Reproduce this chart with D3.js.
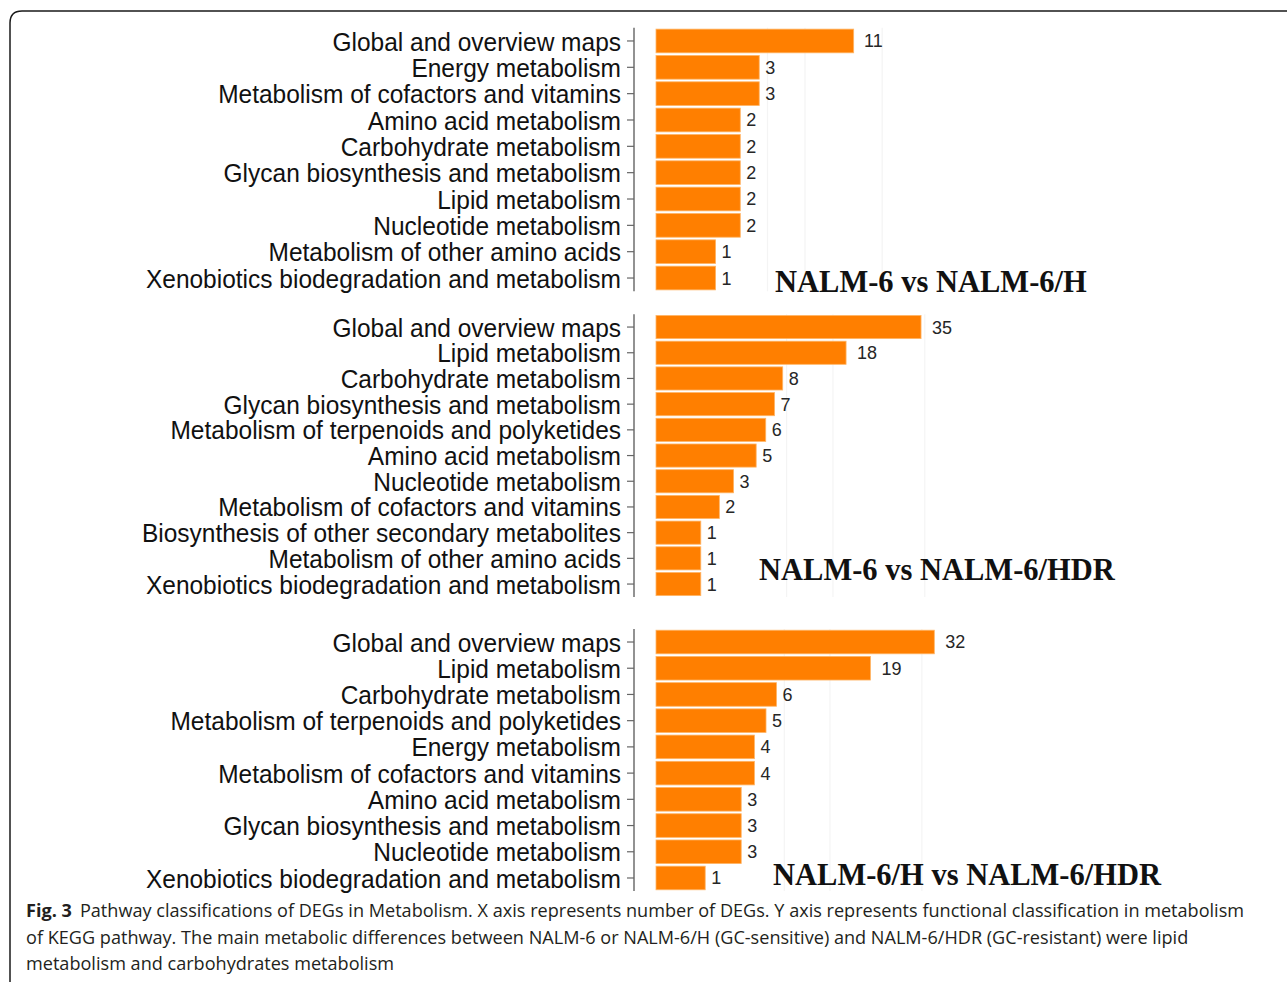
<!DOCTYPE html>
<html>
<head>
<meta charset="utf-8">
<script src="https://cdn.jsdelivr.net/npm/d3@7"></script>
<style>
  html, body { margin: 0; padding: 0; background: #fff; }
  svg { display: block; }
</style>
</head>
<body>
<svg id="chart" width="1287" height="982"></svg>
<script>
// ---------- data ----------
const categories1 = ["Global and overview maps", "Energy metabolism", "Metabolism of cofactors and vitamins",
  "Amino acid metabolism", "Carbohydrate metabolism", "Glycan biosynthesis and metabolism",
  "Lipid metabolism", "Nucleotide metabolism", "Metabolism of other amino acids",
  "Xenobiotics biodegradation and metabolism"];
const values1 = [11, 3, 3, 2, 2, 2, 2, 2, 1, 1];

const categories2 = ["Global and overview maps", "Lipid metabolism", "Carbohydrate metabolism",
  "Glycan biosynthesis and metabolism", "Metabolism of terpenoids and polyketides",
  "Amino acid metabolism", "Nucleotide metabolism", "Metabolism of cofactors and vitamins",
  "Biosynthesis of other secondary metabolites", "Metabolism of other amino acids",
  "Xenobiotics biodegradation and metabolism"];
const values2 = [35, 18, 8, 7, 6, 5, 3, 2, 1, 1, 1];

const categories3 = ["Global and overview maps", "Lipid metabolism", "Carbohydrate metabolism",
  "Metabolism of terpenoids and polyketides", "Energy metabolism",
  "Metabolism of cofactors and vitamins", "Amino acid metabolism",
  "Glycan biosynthesis and metabolism", "Nucleotide metabolism",
  "Xenobiotics biodegradation and metabolism"];
const values3 = [32, 19, 6, 5, 4, 4, 3, 3, 3, 1];

const titles = ["NALM-6 vs NALM-6/H", "NALM-6 vs NALM-6/HDR", "NALM-6/H vs NALM-6/HDR"];
const gridValues1 = [3.5, 6.25, 14.4];
const gridValues2 = [8.5, 15.6, 36];
const gridValues3 = [6.8, 12.5, 29.2];

const captionBold = "Fig. 3";
const captionLines = [
  "Pathway classifications of DEGs in Metabolism. X axis represents number of DEGs. Y axis represents functional classification in metabolism",
  "of KEGG pathway. The main metabolic differences between NALM-6 or NALM-6/H (GC-sensitive) and NALM-6/HDR (GC-resistant) were lipid",
  "metabolism and carbohydrates metabolism"
];

// ---------- layout ----------
const svg = d3.select("#chart");
const BAR_X0 = 656, AXIS_X = 634;
const panels = [
  { cats: categories1, vals: values1, grid: gridValues1, title: titles[0],
    yRange: [27.8, 291.2], xMax: 16, xWidth: 59.6 * 4, titleX: 775, titleY: 292 },
  { cats: categories2, vals: values2, grid: gridValues2, title: titles[1],
    yRange: [314.2, 596.9], xMax: 36, xWidth: 44.8 * 6, titleX: 759, titleY: 580 },
  { cats: categories3, vals: values3, grid: gridValues3, title: titles[2],
    yRange: [628.9, 891.1], xMax: 36, xWidth: 49.2 * 6, titleX: 773, titleY: 885 }
];

// figure frame
svg.append("path")
  .attr("d", "M10,982 L10,23 Q10,11 22,11 L1287,11")
  .attr("fill", "none").attr("stroke", "#1a1a1a").attr("stroke-width", 1.5);

panels.forEach(p => {
  const g = svg.append("g");
  const x = d3.scaleSqrt().domain([0, p.xMax]).range([BAR_X0, BAR_X0 + p.xWidth]);
  const y = d3.scaleBand().domain(p.cats).range(p.yRange).paddingInner(0.1).paddingOuter(0.05);

  // faint grid
  g.selectAll("line.grid").data(p.grid).join("line")
    .attr("class", "grid")
    .attr("x1", d => x(d)).attr("x2", d => x(d))
    .attr("y1", p.yRange[0]).attr("y2", p.yRange[1])
    .attr("stroke", "#f4f4f4").attr("stroke-width", 1.2);

  // bars
  g.selectAll("rect.bar").data(p.vals).join("rect")
    .attr("class", "bar")
    .attr("x", x(0))
    .attr("y", (d, i) => y(p.cats[i]))
    .attr("width", d => x(d) - x(0))
    .attr("height", y.bandwidth())
    .attr("fill", "#ff7f00")
    .attr("stroke", "#ffb566").attr("stroke-width", 0.8);

  // value labels
  g.selectAll("text.val").data(p.vals).join("text")
    .attr("class", "val")
    .attr("y", (d, i) => y(p.cats[i]) + y.bandwidth() / 2)
    .attr("dy", "0.36em")
    .attr("font-family", "Liberation Sans, Arial, sans-serif")
    .attr("font-size", 18)
    .attr("fill", "#262626")
    .text(d => d)
    .each(function(d) {
      const w = this.getComputedTextLength();
      d3.select(this).attr("x", x(d) + 1 + 0.5 * w);
    });

  // y axis
  const axis = d3.axisLeft(y).tickSize(7).tickPadding(6);
  const ag = g.append("g").attr("transform", `translate(${AXIS_X},0)`).call(axis);
  ag.select(".domain").attr("d", `M0,${p.yRange[0]}V${p.yRange[1]}`)
    .attr("stroke", "#777").attr("stroke-width", 1.6);
  ag.selectAll(".tick line").attr("stroke", "#666").attr("stroke-width", 1.2);
  ag.selectAll(".tick text")
    .attr("font-family", "Liberation Sans, Arial, sans-serif")
    .attr("font-size", 24.5)
    .attr("fill", "#111")
    .attr("x", null)
    .attr("transform", "translate(-13,0) scale(1,1.08)")
    .attr("dy", "0.36em");

  // panel title
  g.append("text")
    .attr("x", p.titleX).attr("y", p.titleY)
    .attr("font-family", "Liberation Serif, Times New Roman, serif")
    .attr("font-weight", "bold")
    .attr("font-size", 30.5)
    .attr("fill", "#111")
    .text(p.title);
});

// caption
const cap = svg.append("g")
  .attr("font-family", "Open Sans, Noto Sans, sans-serif")
  .attr("font-size", 18.1)
  .attr("fill", "#231f20");
const l1 = cap.append("text").attr("x", 26).attr("y", 917);
l1.append("tspan").attr("font-weight", "bold").text(captionBold);
l1.append("tspan").attr("dx", 8).text(captionLines[0]);
cap.append("text").attr("x", 26).attr("y", 944).text(captionLines[1]);
cap.append("text").attr("x", 26).attr("y", 970).text(captionLines[2]);
</script>
</body>
</html>
